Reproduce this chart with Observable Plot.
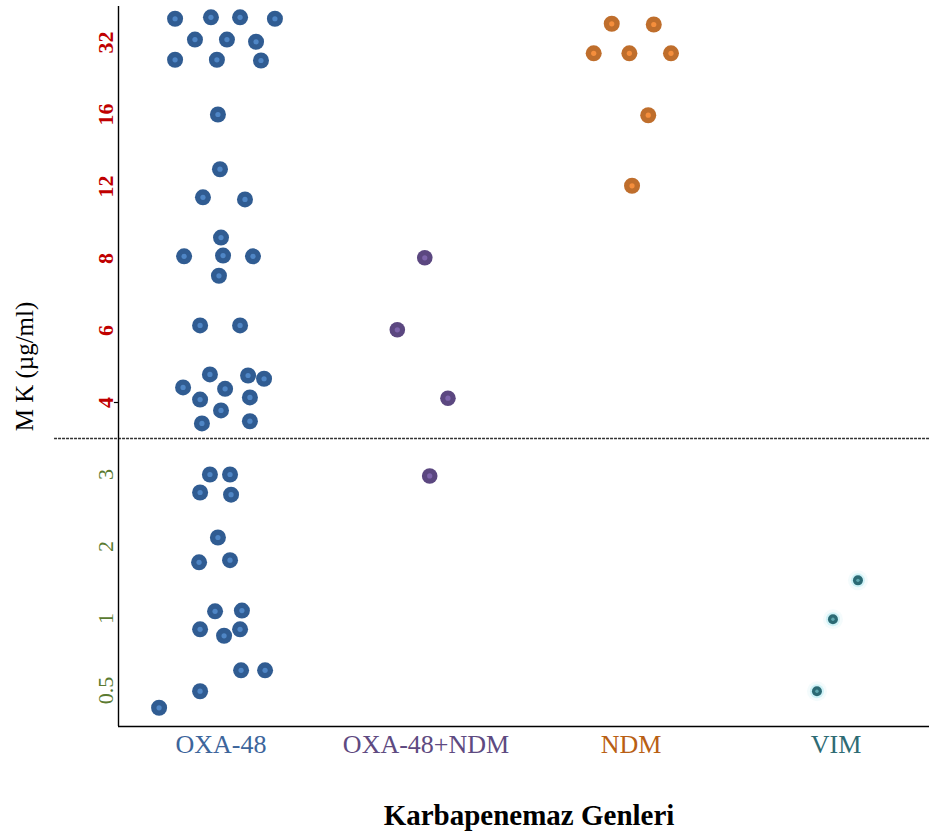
<!DOCTYPE html>
<html>
<head>
<meta charset="utf-8">
<script src="https://cdn.jsdelivr.net/npm/d3@7"></script>
<script src="https://cdn.jsdelivr.net/npm/@observablehq/plot@0.6"></script>
<style>
  html, body { margin: 0; padding: 0; background: #fff; }
  svg { display: block; }
</style>
</head>
<body>
<div id="chart"></div>
<script>
// Categories (x) and MIC levels (y, evenly spaced ranks)
const categories = ["OXA-48", "OXA-48+NDM", "NDM", "VIM"];
const micLabels = ["0.5", "1", "2", "3", "4", "6", "8", "12", "16", "32"];
const breakRank = 3.5; // dashed separator between 3 and 4

// Each point: [jitter within category (category units), MIC rank position]
const oxa48 = [
  [-0.224, 9.33], [-0.049, 9.35], [0.093, 9.35], [0.263, 9.33],
  [-0.127, 9.04], [0.029, 9.04], [0.171, 9.01],
  [-0.224, 8.76], [-0.020, 8.76], [0.195, 8.75],
  [-0.015, 8.00],
  [-0.005, 7.24], [-0.088, 6.85], [0.117, 6.82],
  [0.000, 6.29], [-0.180, 6.03], [0.010, 6.04], [0.156, 6.03], [-0.010, 5.76],
  [-0.102, 5.07], [0.093, 5.07],
  [-0.054, 4.39], [0.132, 4.375], [0.210, 4.33], [-0.185, 4.21], [0.020, 4.19],
  [-0.102, 4.04], [0.141, 4.07], [0.000, 3.89], [-0.093, 3.71], [0.141, 3.74],
  [-0.054, 3.00], [0.044, 3.00], [-0.102, 2.75], [0.049, 2.72],
  [-0.015, 2.125], [-0.107, 1.78], [0.044, 1.81],
  [-0.029, 1.10], [0.102, 1.11], [-0.102, 0.85], [0.015, 0.76], [0.093, 0.85],
  [0.098, 0.28], [0.215, 0.28], [-0.102, -0.01], [-0.302, -0.24]
];
const oxa48ndm = [
  [-0.006, 6.01], [-0.140, 5.01], [0.107, 4.06], [0.018, 2.98]
];
const ndm = [
  [-0.094, 9.26], [0.111, 9.25],
  [-0.182, 8.85], [-0.008, 8.85], [0.195, 8.85],
  [0.084, 7.99],
  [0.005, 7.01]
];
const vim = [
  [0.107, 1.53], [-0.015, 0.99], [-0.093, -0.01]
];

const seriesData = [oxa48, oxa48ndm, ndm, vim];
const toPoints = (arr, ci) => arr.map(([dx, r]) => ({cat: categories[ci], x: ci + dx, y: r}));
const pts = seriesData.map((s, i) => toPoints(s, i));

const catColors = ["#3d659b", "#5e4a81", "#b95f14", "#2e6b74"];
const levels = micLabels.map((label, i) => ({label, rank: i}));
const lowLevels = levels.filter(d => d.rank < breakRank);
const highLevels = levels.filter(d => d.rank > breakRank);
const catTicks = categories.map((c, i) => ({c, i}));

const serif = "'Liberation Serif', 'Times New Roman', serif";

const chart = Plot.plot({
  width: 929,
  height: 834,
  marginTop: 6,
  marginBottom: 108,
  marginLeft: 118,
  marginRight: 0,
  x: {type: "linear", domain: [-0.5, 3.456], axis: null},
  y: {type: "linear", domain: [-0.5, 9.5], axis: null},
  style: {fontFamily: serif, background: "#fff", overflow: "visible"},
  marks: [
    // dashed separator
    Plot.ruleY([breakRank], {x1: -0.812, x2: 3.456, stroke: "#333", strokeWidth: 1.5, strokeDasharray: "3,1"}),
    // axis lines
    Plot.ruleX([-0.5], {y1: -0.5, y2: 9.5, stroke: "#000", strokeWidth: 1.4}),
    Plot.ruleY([-0.5], {x1: -0.5, x2: 3.456, stroke: "#000", strokeWidth: 1.4}),
    Plot.ruleY([4], {x1: -0.52, x2: -0.5, stroke: "#000", strokeWidth: 1.2}),

    // OXA-48
    Plot.dot(pts[0], {x: "x", y: "y", r: 8, fill: "#305c92"}),
    Plot.dot(pts[0], {x: "x", y: "y", r: 2.6, fill: "#4f86c6"}),
    // OXA-48+NDM
    Plot.dot(pts[1], {x: "x", y: "y", r: 7.8, fill: "#5b4780"}),
    Plot.dot(pts[1], {x: "x", y: "y", r: 2.6, fill: "#7d64ab"}),
    // NDM
    Plot.dot(pts[2], {x: "x", y: "y", r: 8, fill: "#bf6e2c"}),
    Plot.dot(pts[2], {x: "x", y: "y", r: 2.6, fill: "#f58e3c"}),
    // VIM (small with soft glow)
    Plot.dot(pts[3], {x: "x", y: "y", r: 10, fill: "#f3fbfc", fillOpacity: 0.9}),
    Plot.dot(pts[3], {x: "x", y: "y", r: 7, fill: "#c6f0f5", fillOpacity: 0.8}),
    Plot.dot(pts[3], {x: "x", y: "y", r: 5, fill: "#2b6a74"}),
    Plot.dot(pts[3], {x: "x", y: "y", r: 1.7, fill: "#5ea8b0"}),

    // y tick labels
    Plot.text(highLevels, {y: "rank", text: "label", frameAnchor: "left", dx: -6, rotate: -90,
      lineAnchor: "bottom", textAnchor: "middle", fill: "#c00000", fontWeight: "bold", fontSize: 22}),
    Plot.text(lowLevels, {y: "rank", text: "label", frameAnchor: "left", dx: -6, rotate: -90,
      lineAnchor: "bottom", textAnchor: "middle", fill: "#5a7a30", fontSize: 22}),

    // x tick labels
    Plot.text(catTicks, {x: "i", text: "c", frameAnchor: "bottom", dy: 26, lineAnchor: "bottom",
      fill: (d) => catColors[d.i], fontSize: 26}),

    // axis titles
    Plot.text(["M K (µg/ml)"], {frameAnchor: "left", dx: -86, rotate: -90, lineAnchor: "bottom",
      textAnchor: "middle", fill: "#000", fontSize: 25}),
    Plot.text(["Karbapenemaz Genleri"], {frameAnchor: "bottom", dx: 5, dy: 98, lineAnchor: "bottom",
      fill: "#000", fontWeight: "bold", fontSize: 29})
  ]
});

document.getElementById("chart").appendChild(chart);
</script>
</body>
</html>
